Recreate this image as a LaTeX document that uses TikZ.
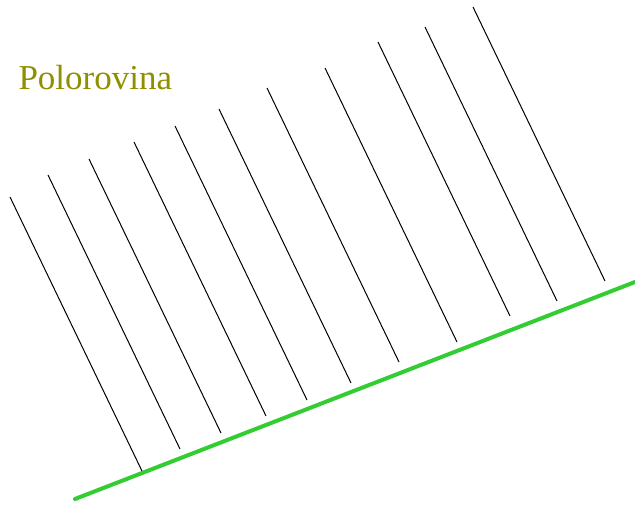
\documentclass[tikz,border=0pt]{standalone}
\usepackage{fontspec}
\setmainfont{Liberation Serif}
\usepackage{xcolor}
\usetikzlibrary{positioning,calc}
\definecolor{olivetext}{HTML}{8F8F00}
\definecolor{groundgreen}{HTML}{33CC33}

\begin{document}
\begin{tikzpicture}[x=1pt,y=1pt,
    hatch/.style={black,line width=1pt},
    ground/.style={groundgreen,line width=4pt,line cap=round},
    label/.style={olivetext,font=\fontsize{35}{42}\selectfont,anchor=base west}]
  % Parameters
  \def\W{635}         % picture width
  \def\H{506}         % picture height
  \def\dx{132}        % horizontal run of each hatch line
  \def\dy{274}        % vertical drop of each hatch line

  \useasboundingbox (0,0) rectangle (\W,\H);

  % ground line
  \coordinate (gA) at (75,7);
  \coordinate (gB) at (\W,224);
  \draw[ground] (gA) -- (gB);

  % hatch lines, all of the same length
  \foreach \i/\x/\y in {1/10/309, 2/48/331, 3/89/347, 4/134/364, 5/175/380,
                        6/219/397, 7/267/418, 8/325/438, 9/378/464, 10/425/479,
                        11/473/499} {
    \coordinate (top\i) at (\x,\y);
    \draw[hatch] (top\i) -- ++(\dx,-\dy);
  }

  \node[label] (title) at (15,416) {Polorovina};

\end{tikzpicture}
\end{document}
